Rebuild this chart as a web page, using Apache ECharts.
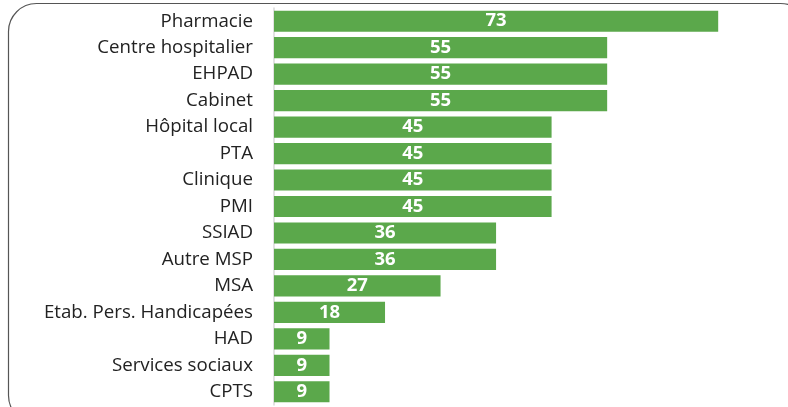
<!DOCTYPE html>
<html><head><meta charset="utf-8">
<script src="https://cdn.jsdelivr.net/npm/echarts@6/dist/echarts.min.js"></script>
<style>html,body{margin:0;padding:0;background:#fff}#c{width:788px;height:407px}</style>
</head><body><div id="c"></div>
<script>
const categories = ["Pharmacie","Centre hospitalier","EHPAD","Cabinet","Hôpital local","PTA","Clinique","PMI","SSIAD","Autre MSP","MSA","Etab. Pers. Handicapées","HAD","Services sociaux","CPTS"];
const values = [72.73,54.55,54.55,54.55,45.45,45.45,45.45,45.45,36.36,36.36,27.27,18.18,9.09,9.09,9.09];
const chart = echarts.init(document.getElementById('c'), null, {renderer:'canvas'});
chart.setOption({
  animation:false,
  graphic:[{type:'rect', shape:{x:8.5,y:3.5,width:800,height:420,r:28}, style:{fill:'none',stroke:'#555',lineWidth:1.2}, z:-1}],
  grid:{left:274,top:8,height:397,width:488.6},
  xAxis:{type:'value',min:0,max:80,show:false},
  yAxis:{type:'category',data:categories,inverse:true,
    axisLine:{show:true,lineStyle:{color:'#d9d9d9',width:1.5}},axisTick:{show:false},
    axisLabel:{color:'#222',fontSize:18.7,fontFamily:'Open Sans',margin:21}},
  series:[{type:'bar',data:values,barCategoryGap:'20%',itemStyle:{color:'#5ba84b'},
    label:{show:true,position:'inside',color:'#fff',fontWeight:'bold',fontSize:18.5,fontFamily:'Open Sans',
      formatter:p=>Math.round(p.value)}}]
});
</script></body></html>
